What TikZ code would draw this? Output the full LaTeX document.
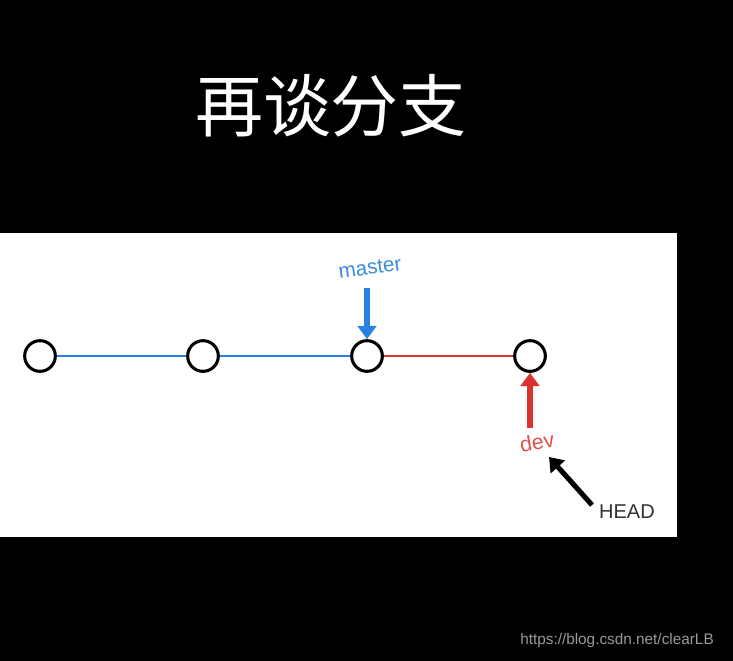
\documentclass[tikz,border=0pt]{standalone}
\usepackage{fontspec}
\setmainfont{Liberation Sans}
\newfontfamily\cjk{Noto Sans CJK SC}
\usetikzlibrary{arrows.meta}
\begin{document}
\begin{tikzpicture}[x=0.75pt,y=-0.75pt,
  commit/.style={circle,draw=black,line width=2.3pt,fill=white,minimum size=23pt,inner sep=0pt},
  blueline/.style={draw={rgb,255:red,40;green,130;blue,225},line width=1.7pt},
  redline/.style={draw={rgb,255:red,220;green,50;blue,45},line width=1.7pt},
  ptr/.style={line width=3.8pt,-{Triangle[length=10pt,width=14pt]}},
  lbl/.style={inner sep=0pt}]
\fill[black] (0,0) rectangle (733,661);
\useasboundingbox (0,0) rectangle (733,661);
\fill[white] (0,233) rectangle (677,537);
\node[text=white,font=\cjk\fontsize{51}{51}\selectfont] (title) at (331,106) {再谈分支};
\node[commit] (c1) at (40,356) {};
\node[commit] (c2) at (203,356) {};
\node[commit] (c3) at (367,356) {};
\node[commit] (c4) at (530,356) {};
\draw[blueline] (c1) -- (c2);
\draw[blueline] (c2) -- (c3);
\draw[redline] (c3) -- (c4);
\node[lbl,text={rgb,255:red,60;green,140;blue,225},rotate=8,font=\fontsize{15.5}{15.5}\selectfont] (master) at (370,268) {master};
\coordinate (mtop) at (367,288);
\draw[ptr,draw={rgb,255:red,40;green,130;blue,225},fill={rgb,255:red,40;green,130;blue,225}] (mtop) -- (c3.north);
\coordinate (dbot) at (530,428);
\draw[ptr,draw={rgb,255:red,220;green,50;blue,45},fill={rgb,255:red,220;green,50;blue,45}] (dbot) -- (c4.south);
\node[lbl,text={rgb,255:red,225;green,80;blue,75},rotate=10,font=\fontsize{16}{16}\selectfont] (dev) at (537,442) {dev};
\node[lbl,text=black!80,font=\fontsize{15}{15}\selectfont] (head) at (627,512) {HEAD};
\coordinate (htail) at (592,505);
\coordinate (htip) at (549,457);
\draw[ptr,draw=black,fill=black] (htail) -- (htip);
\node[text=black!40,font=\fontsize{11.5}{11.5}\selectfont,inner sep=0pt] (url) at (617,641) {https://blog.csdn.net/clearLB};
\end{tikzpicture}
\end{document}
